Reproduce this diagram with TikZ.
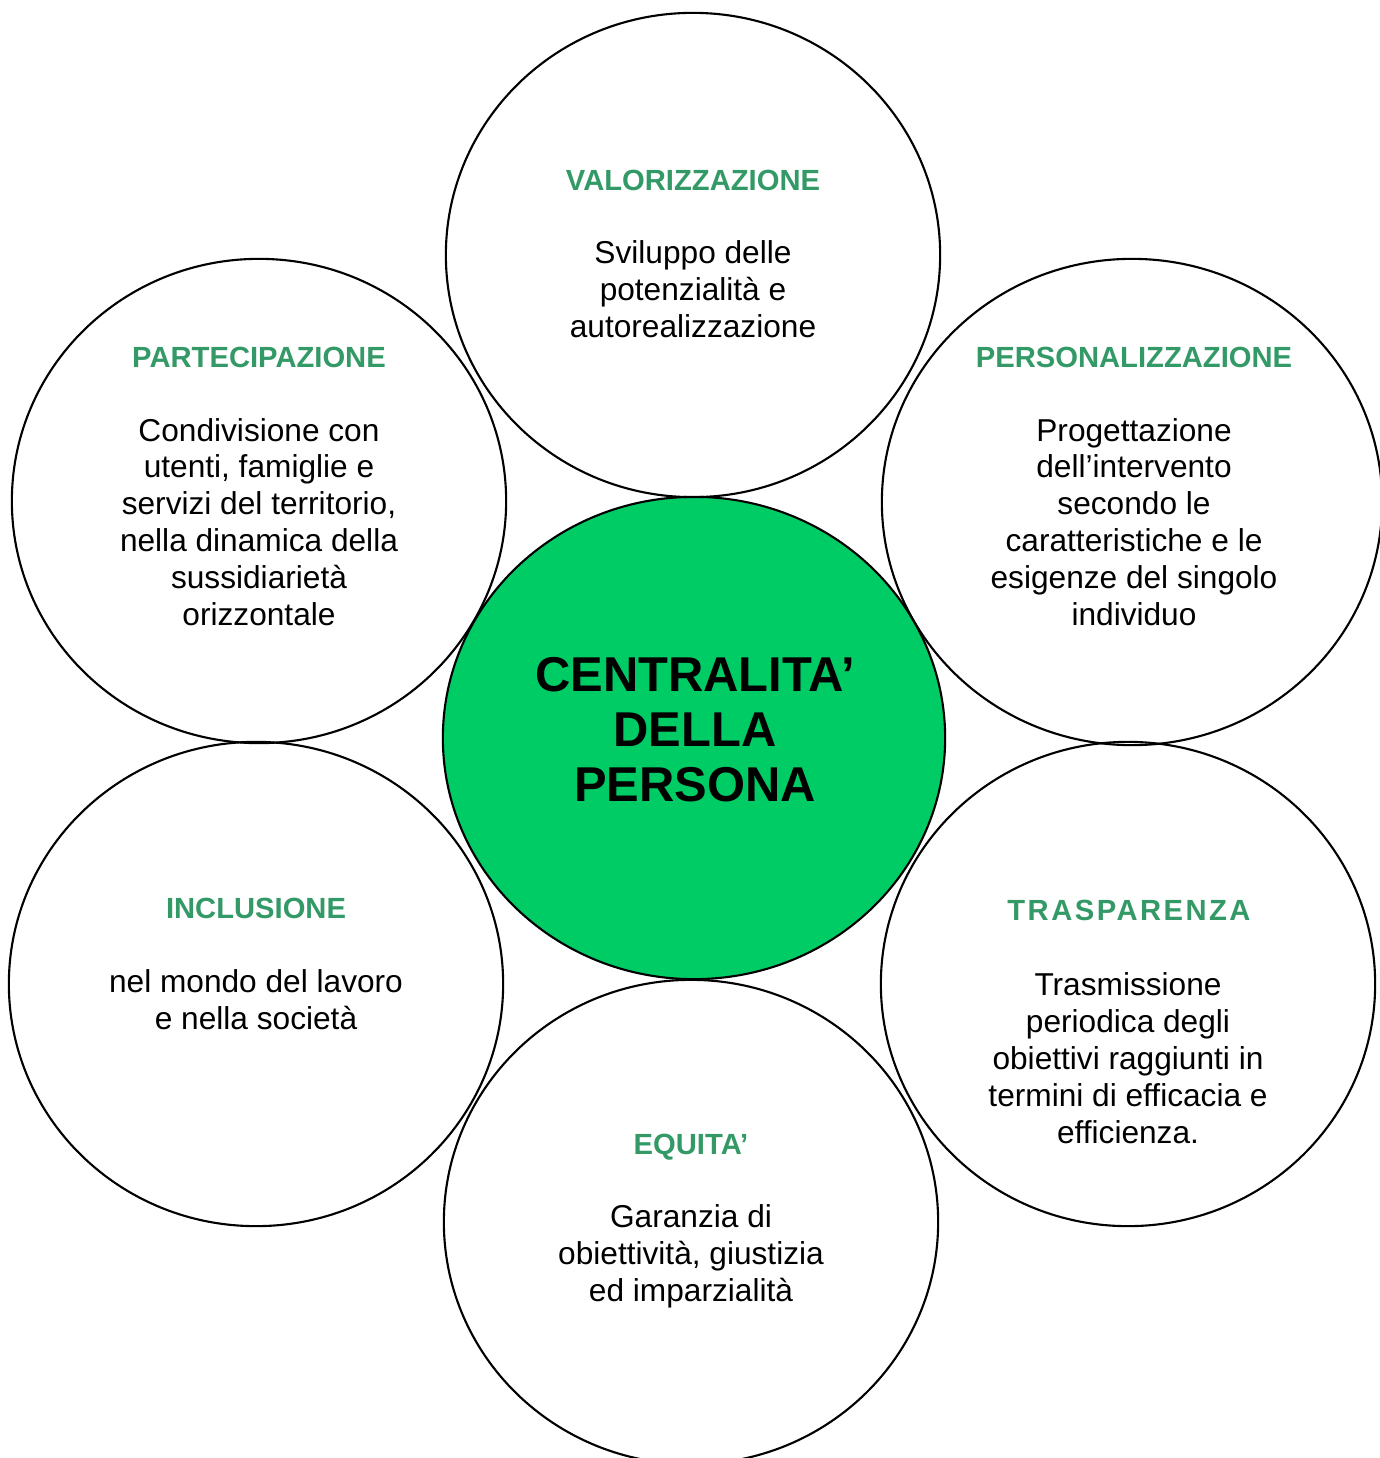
\documentclass[tikz,border=0pt]{standalone}
\usepackage{fontspec}
\setmainfont{Liberation Sans}
\usetikzlibrary{shapes.geometric}
\definecolor{titlegreen}{RGB}{51,153,102}
\definecolor{centregreen}{RGB}{0,204,102}

\begin{document}
\begin{tikzpicture}[x=0.01cm,y=-0.01cm,
petal/.style={draw,ellipse,line width=0.6pt,minimum width=4.94cm,minimum height=4.84cm,inner sep=0pt},
heading/.style={font=\fontsize{8.3}{10}\selectfont\bfseries,text=titlegreen,inner sep=0pt},
body/.style={font=\fontsize{9}{10.5}\selectfont,align=center,inner sep=0pt}]
\useasboundingbox (0,0) rectangle (1379,1458);
% centre circle
\node[draw,ellipse,line width=0.6pt,fill=centregreen,minimum width=5.02cm,minimum height=4.82cm] (C) at (694,738) {};
\node[font=\fontsize{13.9}{15.6}\selectfont\bfseries,align=center,inner sep=0pt] (Ct) at (695,730) {CENTRALITA’\\DELLA\\PERSONA};
% outer circles
\node[petal] (V) at (693,255) {};
\node[petal] (P) at (259,501) {};
\node[petal,minimum width=5cm,minimum height=4.86cm] (Q) at (1132,502) {};
\node[petal] (I) at (256,984) {};
\node[petal] (T) at (1128,984) {};
\node[petal] (E) at (691,1222) {};
% titles
\node[heading] (Vt) at (693,180) {VALORIZZAZIONE};
\node[heading] (Pt) at (259,357) {PARTECIPAZIONE};
\node[heading] (Qt) at (1134,357) {PERSONALIZZAZIONE};
\node[heading] (It) at (256,908) {INCLUSIONE};
\node[heading] (Tt) at (1129,910) {\addfontfeature{LetterSpace=8.5}TRASPARENZA};
\node[heading] (Et) at (691,1147) {EQUITA’};
% texts
\node[body] (Vb) at (693,289) {Sviluppo delle\\potenzialità e\\autorealizzazione};
\node[body] (Pb) at (259,522) {Condivisione con\\utenti, famiglie e\\servizi del territorio,\\nella dinamica della\\sussidiarietà\\orizzontale};
\node[body] (Qb) at (1134,522) {Progettazione\\dell’intervento\\secondo le\\caratteristiche e le\\esigenze del singolo\\individuo};
\node[body] (Ib) at (256,1000) {nel mondo del lavoro\\e nella società};
\node[body] (Tb) at (1128,1058) {Trasmissione\\periodica degli\\obiettivi raggiunti in\\termini di efficacia e\\efficienza.};
\node[body] (Eb) at (691,1256) {Garanzia di\\obiettività, giustizia\\ed imparzialità};
\end{tikzpicture}
\end{document}
